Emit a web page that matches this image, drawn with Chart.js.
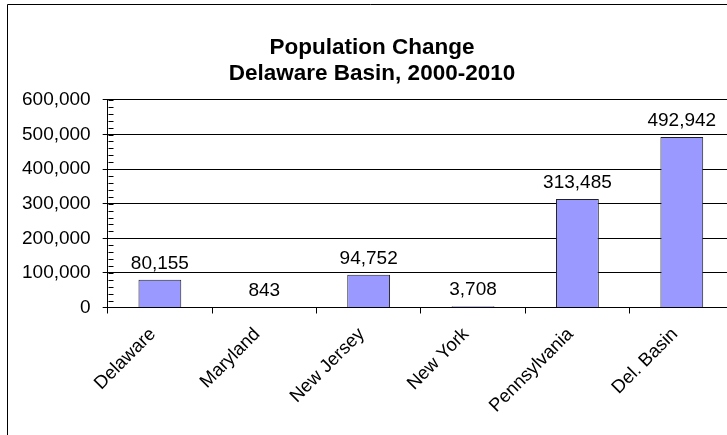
<!DOCTYPE html>
<html>
<head>
<meta charset="utf-8">
<script src="https://cdn.jsdelivr.net/npm/chart.js@4"></script>
<style>
  html, body { margin: 0; padding: 0; background: #fff; overflow: hidden; }
  #wrap { width: 734px; height: 435px; }
</style>
</head>
<body>
<div id="wrap"><canvas id="chart" width="734" height="435"></canvas></div>
<script>
const regions = ["Delaware", "Maryland", "New Jersey", "New York", "Pennsylvania", "Del. Basin"];
const popChange = [80155, 843, 94752, 3708, 313485, 492942];
const titleLines = ["Population Change", "Delaware Basin, 2000-2010"];

const fontFamily = "'Liberation Sans', Arial, sans-serif";

// outer frame + minor ticks on the value axis + value labels above bars
const extras = {
  id: "extras",
  beforeDraw(chart) {
    const ctx = chart.ctx;
    ctx.save();
    ctx.fillStyle = "#fff";
    ctx.fillRect(0, 0, chart.width, chart.height);
    ctx.strokeStyle = "#000";
    ctx.lineWidth = 1;
    ctx.beginPath();
    ctx.moveTo(7.5, chart.height);
    ctx.lineTo(7.5, 4.5);
    ctx.lineTo(chart.width, 4.5);
    ctx.stroke();
    ctx.restore();
  },
  afterDraw(chart) {
    const ctx = chart.ctx;
    const y = chart.scales.y;
    const x0 = Math.round(chart.chartArea.left) + 0.5;
    ctx.save();
    ctx.strokeStyle = "#000";
    ctx.lineWidth = 1;
    ctx.beginPath();
    for (let v = 0; v <= y.max; v += 20000) {
      const py = Math.round(y.getPixelForValue(v)) + 0.5;
      ctx.moveTo(x0, py);
      ctx.lineTo(x0 + 5, py);
    }
    ctx.stroke();

    const meta = chart.getDatasetMeta(0);
    ctx.fillStyle = "#000";
    ctx.font = "19px " + fontFamily;
    ctx.textAlign = "center";
    ctx.textBaseline = "alphabetic";
    meta.data.forEach((bar, i) => {
      ctx.fillText(popChange[i].toLocaleString("en-US"), bar.x, bar.y - 11);
    });
    ctx.restore();
  }
};

new Chart(document.getElementById("chart"), {
  type: "bar",
  data: {
    labels: regions,
    datasets: [{
      data: popChange,
      backgroundColor: "#9999ff",
      borderColor: "#222",
      borderWidth: 1,
      barPercentage: 0.41,
      categoryPercentage: 1
    }]
  },
  options: {
    responsive: false,
    animation: false,
    layout: { padding: { top: 35, left: 10, right: 0, bottom: 8 } },
    plugins: {
      legend: { display: false },
      tooltip: { enabled: false },
      title: {
        display: true,
        text: titleLines,
        color: "#000",
        font: { family: fontFamily, size: 22.5, weight: "bold", lineHeight: 1.155 },
        padding: { top: 0, bottom: 13 }
      }
    },
    scales: {
      x: {
        grid: { drawOnChartArea: false, color: "#000", tickLength: 6, offset: true },
        border: { color: "#000" },
        ticks: {
          color: "#000",
          font: { family: fontFamily, size: 18.5 },
          minRotation: 45,
          maxRotation: 45,
          padding: 10,
          labelOffset: -7
        }
      },
      y: {
        min: 0,
        max: 600000,
        grid: { color: "#000", tickLength: 5 },
        border: { color: "#000" },
        ticks: {
          stepSize: 100000,
          color: "#000",
          font: { family: fontFamily, size: 19 },
          padding: 12,
          callback: (v) => v.toLocaleString("en-US")
        }
      }
    }
  },
  plugins: [extras]
});
</script>
</body>
</html>
